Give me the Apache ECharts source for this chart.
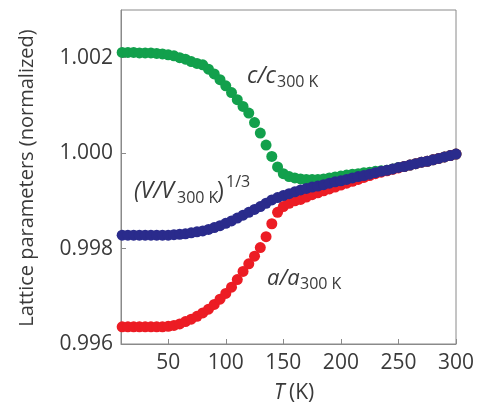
<!DOCTYPE html>
<html><head><meta charset="utf-8">
<script src="https://cdn.jsdelivr.net/npm/echarts@6/dist/echarts.min.js"></script>
<style>html,body{margin:0;padding:0;background:#fff}#c{width:479px;height:405px}</style>
</head><body><div id="c"></div>
<script>
const temperatures = [10,15,20,25,30,35,40,45,50,55,60,65,70,75,80,85,90,95,100,105,110,115,120,125,130,135,140,145,150,155,160,165,170,175,180,185,190,195,200,205,210,215,220,225,230,235,240,245,250,255,260,265,270,275,280,285,290,295,300];
const cRatio = [1.00211,1.00211,1.00211,1.00210,1.00210,1.00210,1.00209,1.00208,1.00206,1.00204,1.00200,1.00197,1.00192,1.00188,1.00185,1.00176,1.00166,1.00154,1.00141,1.00127,1.00112,1.00098,1.00084,1.00064,1.00042,1.00017,0.99993,0.99971,0.99957,0.99951,0.99948,0.99946,0.99945,0.99945,0.99945,0.99946,0.99948,0.99950,0.99952,0.99954,0.99956,0.99957,0.99959,0.99960,0.99962,0.99963,0.99964,0.99967,0.99970,0.99972,0.99975,0.99978,0.99981,0.99983,0.99986,0.99989,0.99992,0.99995,0.99998];
const vRatio = [0.99828,0.99828,0.99828,0.99828,0.99828,0.99828,0.99828,0.99828,0.99828,0.99829,0.99830,0.99831,0.99833,0.99835,0.99837,0.99840,0.99844,0.99848,0.99853,0.99858,0.99864,0.99870,0.99876,0.99882,0.99888,0.99895,0.99902,0.99907,0.99911,0.99915,0.99919,0.99923,0.99926,0.99929,0.99931,0.99934,0.99937,0.99940,0.99942,0.99945,0.99948,0.99951,0.99953,0.99956,0.99959,0.99962,0.99964,0.99967,0.99970,0.99972,0.99975,0.99978,0.99981,0.99983,0.99986,0.99989,0.99992,0.99995,0.99998];
const aRatio = [0.99636,0.99636,0.99636,0.99636,0.99636,0.99636,0.99636,0.99636,0.99637,0.99639,0.99642,0.99647,0.99652,0.99658,0.99665,0.99673,0.99683,0.99694,0.99706,0.99719,0.99735,0.99752,0.99768,0.99784,0.99802,0.99825,0.99852,0.99876,0.99888,0.99895,0.99900,0.99903,0.99908,0.99913,0.99917,0.99921,0.99925,0.99929,0.99933,0.99937,0.99941,0.99945,0.99949,0.99953,0.99957,0.99960,0.99963,0.99966,0.99969,0.99972,0.99975,0.99978,0.99981,0.99983,0.99986,0.99989,0.99992,0.99995,0.99998];
const xTicks = [50,100,150,200,250,300];
const yTicks = [0.996,0.998,1.000,1.002];

const FONT = '"Open Sans", "Noto Sans", sans-serif';
const TXT = '#3a3a3a';
const AX = '#8a8a8a';
const chart = echarts.init(document.getElementById('c'), null, {renderer:'canvas'});
function pairs(vals){ return temperatures.map((t,i)=>[t, vals[i]]); }
function txt(x,y,text,size,italic,extra){
  return Object.assign({type:'text', x:x, y:y, z:100, style:{text:text, fontSize:size, fontFamily:FONT, fontStyle: italic?'italic':'normal', fill:TXT, align:'left', verticalAlign:'middle'}}, extra||{});
}
chart.setOption({
  animation:false,
  backgroundColor:'#fff',
  grid:{left:121, right:23, top:10, bottom:61, show:true, borderColor:AX, borderWidth:1, backgroundColor:'transparent'},
  xAxis:{type:'value', min:9, max:300,
    axisLine:{show:true, lineStyle:{color:AX, width:1}},
    axisTick:{show:true, inside:true, length:5, lineStyle:{color:AX}, customValues:xTicks},
    axisLabel:{customValues:xTicks, fontSize:21, fontFamily:FONT, color:TXT, margin:9},
    splitLine:{show:false}},
  yAxis:{type:'value', min:0.996, max:1.003,
    axisLine:{show:true, lineStyle:{color:AX, width:1}},
    axisTick:{show:true, inside:true, length:5, lineStyle:{color:AX}, customValues:yTicks},
    axisLabel:{customValues:yTicks, fontSize:21, fontFamily:FONT, color:TXT, margin:8, formatter:v=>v.toFixed(3)},
    splitLine:{show:false}},
  series:[
    {type:'scatter', name:'c', data:pairs(cRatio), symbol:'circle', symbolSize:11, itemStyle:{color:'#12a04c', opacity:1}},
    {type:'scatter', name:'a', data:pairs(aRatio), symbol:'circle', symbolSize:11, itemStyle:{color:'#ec1c24', opacity:1}},
    {type:'scatter', name:'V', data:pairs(vRatio), symbol:'circle', symbolSize:11, itemStyle:{color:'#2a2b8c', opacity:1}}
  ],
  graphic:[
    txt(27,178,'Lattice parameters (normalized)',20,false,{rotation:Math.PI/2, style:{text:'Lattice parameters (normalized)', fontSize:20, fontFamily:FONT, fill:TXT, align:'center', verticalAlign:'middle'}}),
    txt(274,393,'T',21,true),
    txt(289,393,'(K)',21,false),
    txt(247,76,'c/c',23,true),
    txt(277,82,'300 K',16,false),
    txt(134,191,'(V/V',23,true),
    txt(177,198,'300 K',16,false),
    txt(217,191,')',23,false),
    txt(226,182,'1/3',16,false),
    txt(267,279,'a/a',22,true),
    txt(300,284,'300 K',16,false)
  ]
});
</script>
</body></html>
